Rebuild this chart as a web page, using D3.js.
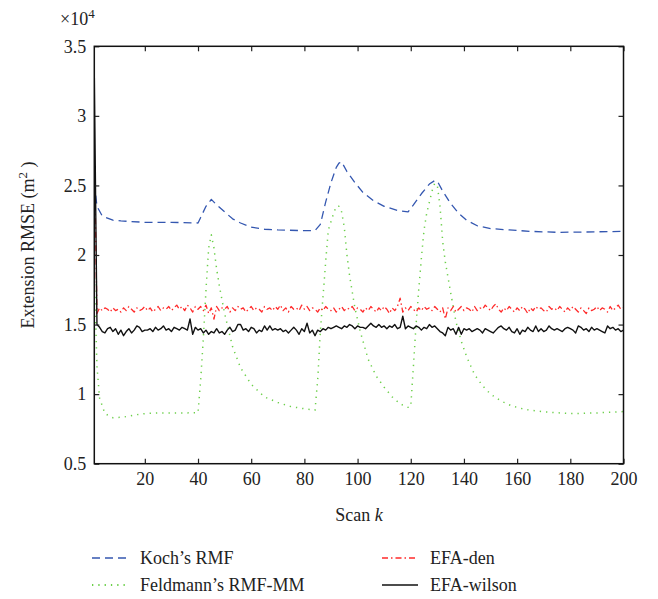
<!DOCTYPE html>
<html>
<head>
<meta charset="utf-8">
<script src="https://cdnjs.cloudflare.com/ajax/libs/d3/7.8.5/d3.min.js"></script>
<style>
  body { margin: 0; background: #fff; }
  text { font-family: "Liberation Serif", "Times New Roman", serif; fill: #222; }
</style>
</head>
<body>
<div id="chart"></div>
<script>
// values are in units of 10^4 m^2
var kochK = [1, 2, 4, 8, 11, 20, 30, 40, 41, 43, 45, 47, 50, 53, 56, 60, 65, 70, 80, 84,
  86, 88, 90, 92, 93, 94, 96, 99, 102, 106, 110, 115, 119, 121, 124, 127, 129, 130,
  132, 135, 138, 141, 145, 150, 157, 165, 175, 185, 200];
var kochVal = [2.52, 2.35, 2.28, 2.25, 2.245, 2.235, 2.235, 2.23, 2.27, 2.35, 2.40, 2.36, 2.31, 2.26, 2.23, 2.20, 2.185, 2.18, 2.175, 2.175,
  2.22, 2.38, 2.52, 2.63, 2.66, 2.67, 2.60, 2.52, 2.45, 2.39, 2.35, 2.32, 2.31, 2.36, 2.44, 2.51, 2.535, 2.53,
  2.46, 2.37, 2.30, 2.25, 2.21, 2.19, 2.18, 2.17, 2.163, 2.165, 2.17];

var feldK = [1, 2, 3, 5, 8, 12, 16, 20, 25, 30, 35, 40, 41, 42, 43, 44, 45, 46, 47, 48, 50, 53, 56, 60, 65, 70, 75, 80, 84,
  85, 86, 87, 88, 89, 91, 92, 93, 94, 95, 96, 97, 99, 101, 104, 107, 110, 113, 116, 119, 120,
  121, 122, 123, 124, 125, 126, 128, 129, 130, 131, 132, 133, 135, 137, 139, 141, 144, 147, 150, 154, 158, 163, 170, 180, 190, 200];
var feldVal = [1.88, 1.20, 0.97, 0.86, 0.83, 0.835, 0.85, 0.86, 0.865, 0.865, 0.865, 0.866, 1.10, 1.40, 1.75, 2.05, 2.145, 2.05, 1.90, 1.78, 1.58, 1.34, 1.19, 1.07, 0.98, 0.94, 0.91, 0.895, 0.885,
  1.10, 1.45, 1.70, 1.95, 2.18, 2.30, 2.35, 2.35, 2.31, 2.20, 2.00, 1.85, 1.62, 1.45, 1.25, 1.13, 1.05, 0.98, 0.93, 0.905, 0.91,
  1.20, 1.50, 1.75, 1.98, 2.18, 2.30, 2.46, 2.515, 2.50, 2.35, 2.10, 1.95, 1.73, 1.52, 1.38, 1.27, 1.14, 1.06, 1.00, 0.95, 0.915, 0.89, 0.873, 0.86, 0.865, 0.875];

// EFA-den, k = 1..200
var denVal = [2.75, 1.58, 1.62, 1.60, 1.62, 1.61, 1.59, 1.62, 1.60, 1.61,
  1.59, 1.62, 1.60, 1.63, 1.61, 1.59, 1.62, 1.60, 1.61, 1.63,
  1.60, 1.62, 1.59, 1.61, 1.63, 1.60, 1.62, 1.61, 1.63, 1.60,
  1.62, 1.64, 1.61, 1.63, 1.60, 1.64, 1.62, 1.59, 1.63, 1.61,
  1.63, 1.60, 1.64, 1.58, 1.62, 1.54, 1.63, 1.60, 1.62, 1.61,
  1.63, 1.59, 1.62, 1.60, 1.63, 1.61, 1.62, 1.59, 1.61, 1.63,
  1.60, 1.62, 1.61, 1.59, 1.63, 1.61, 1.62, 1.60, 1.63, 1.61,
  1.64, 1.60, 1.62, 1.59, 1.63, 1.61, 1.62, 1.60, 1.64, 1.61,
  1.63, 1.60, 1.62, 1.61, 1.59, 1.62, 1.60, 1.63, 1.61, 1.60,
  1.62, 1.59, 1.61, 1.63, 1.60, 1.62, 1.61, 1.63, 1.60, 1.62,
  1.61, 1.59, 1.62, 1.60, 1.63, 1.61, 1.59, 1.62, 1.60, 1.63,
  1.61, 1.58, 1.62, 1.60, 1.63, 1.69, 1.59, 1.62, 1.60, 1.63,
  1.61, 1.59, 1.62, 1.60, 1.63, 1.61, 1.62, 1.60, 1.63, 1.61,
  1.59, 1.62, 1.54, 1.62, 1.60, 1.63, 1.59, 1.61, 1.63, 1.60,
  1.62, 1.61, 1.59, 1.63, 1.60, 1.62, 1.61, 1.64, 1.62, 1.60,
  1.63, 1.65, 1.61, 1.59, 1.62, 1.60, 1.63, 1.61, 1.59, 1.62,
  1.60, 1.63, 1.61, 1.58, 1.62, 1.60, 1.63, 1.61, 1.62, 1.60,
  1.59, 1.63, 1.61, 1.62, 1.60, 1.63, 1.61, 1.59, 1.62, 1.60,
  1.63, 1.61, 1.59, 1.62, 1.60, 1.58, 1.62, 1.60, 1.61, 1.63,
  1.60, 1.62, 1.61, 1.59, 1.63, 1.60, 1.62, 1.64, 1.61, 1.62];

// EFA-wilson, k = 1..200
var wilsonVal = [3.30, 1.50, 1.48, 1.45, 1.44, 1.47, 1.48, 1.45, 1.47, 1.43,
  1.46, 1.42, 1.45, 1.47, 1.44, 1.46, 1.49, 1.48, 1.45, 1.46,
  1.46, 1.47, 1.45, 1.48, 1.46, 1.47, 1.49, 1.46, 1.47, 1.45,
  1.48, 1.47, 1.46, 1.48, 1.47, 1.46, 1.54, 1.43, 1.48, 1.46,
  1.47, 1.44, 1.46, 1.43, 1.45, 1.44, 1.47, 1.44, 1.45, 1.43,
  1.46, 1.48, 1.45, 1.46, 1.50, 1.50, 1.46, 1.47, 1.45, 1.48,
  1.47, 1.44, 1.46, 1.45, 1.49, 1.46, 1.49, 1.46, 1.47, 1.46,
  1.47, 1.45, 1.46, 1.44, 1.46, 1.48, 1.46, 1.43, 1.47, 1.45,
  1.51, 1.44, 1.46, 1.42, 1.46, 1.45, 1.47, 1.46, 1.48, 1.47,
  1.48, 1.49, 1.48, 1.47, 1.49, 1.48, 1.50, 1.49, 1.47, 1.49,
  1.48, 1.48, 1.47, 1.49, 1.51, 1.49, 1.48, 1.50, 1.48, 1.49,
  1.47, 1.49, 1.48, 1.50, 1.47, 1.48, 1.56, 1.47, 1.49, 1.48,
  1.47, 1.49, 1.48, 1.46, 1.48, 1.47, 1.50, 1.48, 1.49, 1.47,
  1.45, 1.44, 1.42, 1.48, 1.46, 1.47, 1.43, 1.48, 1.43, 1.47,
  1.46, 1.47, 1.45, 1.46, 1.47, 1.46, 1.44, 1.47, 1.46, 1.45,
  1.44, 1.46, 1.48, 1.49, 1.47, 1.46, 1.48, 1.45, 1.44, 1.47,
  1.43, 1.46, 1.45, 1.48, 1.46, 1.45, 1.49, 1.45, 1.47, 1.45,
  1.46, 1.49, 1.47, 1.46, 1.47, 1.46, 1.45, 1.47, 1.48, 1.47,
  1.46, 1.44, 1.49, 1.48, 1.46, 1.47, 1.45, 1.48, 1.46, 1.47,
  1.46, 1.45, 1.44, 1.49, 1.47, 1.48, 1.46, 1.47, 1.45, 1.46];

var xTicks = [20, 40, 60, 80, 100, 120, 140, 160, 180, 200];
var yTicks = [0.5, 1, 1.5, 2, 2.5, 3, 3.5];
var legendNames = ["Koch\u2019s RMF", "Feldmann\u2019s RMF-MM", "EFA-den", "EFA-wilson"];

var width = 658;
var height = 599;
var plotL = 94.3, plotR = 623.5, plotT = 46.3, plotB = 463.7;

var svg = d3.select('#chart')
  .append("svg")
  .attr("width", width)
  .attr("height", height);

var x = d3.scaleLinear().domain([1, 200]).range([plotL, plotR]);
var y = d3.scaleLinear().domain([0.5, 3.5]).range([plotB, plotT]);

function pairs(ks, vs) {
  return vs.map(function (v, i) { return [ks[i], v]; });
}
function indexed(vs) {
  return vs.map(function (v, i) { return [i + 1, v]; });
}

var line = d3.line()
  .x(function (d) { return x(d[0]); })
  .y(function (d) { return y(d[1]); });

var series = [
  { name: legendNames[0], data: pairs(kochK, kochVal), color: "#3457b0", dash: "8,5", w: 1.3 },
  { name: legendNames[1], data: pairs(feldK, feldVal), color: "#6ccf4a", dash: "1.3,5", w: 1.5 },
  { name: legendNames[2], data: indexed(denVal), color: "#ff2a2a", dash: "6,3,1.5,3", w: 1.3 },
  { name: legendNames[3], data: indexed(wilsonVal), color: "#111", dash: null, w: 1.4 }
];

svg.append("defs").append("clipPath").attr("id", "clip")
  .append("rect")
  .attr("x", plotL).attr("y", plotT)
  .attr("width", plotR - plotL).attr("height", plotB - plotT);

var plot = svg.append("g").attr("clip-path", "url(#clip)");

plot.selectAll(".series")
  .data(series)
  .enter()
  .append("path")
  .attr("class", "series")
  .attr("d", function (d) { return line(d.data); })
  .attr("fill", "none")
  .attr("stroke", function (d) { return d.color; })
  .attr("stroke-width", function (d) { return d.w; })
  .attr("stroke-dasharray", function (d) { return d.dash; })
  .attr("stroke-linejoin", "round");

// axes, ticks pointing inward
var fmt = function (d) { return String(d); };

svg.append("g")
  .attr("transform", "translate(0," + plotB + ")")
  .call(d3.axisBottom(x).tickValues(xTicks).tickSizeInner(-5).tickSizeOuter(0).tickPadding(9))
  .call(function (g) { g.select(".domain").remove(); })
  .selectAll("text").attr("font-size", 18);

svg.append("g")
  .attr("transform", "translate(0," + plotT + ")")
  .call(d3.axisTop(x).tickValues(xTicks).tickSizeInner(-5).tickSizeOuter(0).tickFormat(""))
  .call(function (g) { g.select(".domain").remove(); });

svg.append("g")
  .attr("transform", "translate(" + plotL + ",0)")
  .call(d3.axisLeft(y).tickValues(yTicks).tickSizeInner(-5).tickSizeOuter(0).tickPadding(8).tickFormat(fmt))
  .call(function (g) { g.select(".domain").remove(); })
  .selectAll("text").attr("font-size", 18);

svg.append("g")
  .attr("transform", "translate(" + plotR + ",0)")
  .call(d3.axisRight(y).tickValues(yTicks).tickSizeInner(-5).tickSizeOuter(0).tickFormat(""))
  .call(function (g) { g.select(".domain").remove(); });

svg.selectAll(".tick line").attr("stroke", "#222").attr("stroke-width", 1.2);

svg.append("rect")
  .attr("x", plotL).attr("y", plotT)
  .attr("width", plotR - plotL).attr("height", plotB - plotT)
  .attr("fill", "none")
  .attr("stroke", "#111")
  .attr("stroke-width", 1.5);

// exponent label
var expo = svg.append("text")
  .attr("x", 60).attr("y", 25)
  .attr("font-size", 18);
expo.append("tspan").text("\u00d710");
expo.append("tspan").attr("dy", -7).attr("font-size", 13).text("4");

// axis titles
var xt = svg.append("text")
  .attr("x", (plotL + plotR) / 2)
  .attr("y", 521)
  .attr("text-anchor", "middle")
  .attr("font-size", 18);
xt.append("tspan").text("Scan ");
xt.append("tspan").attr("font-style", "italic").text("k");

var yt = svg.append("text")
  .attr("transform", "translate(34,245) rotate(-90)")
  .attr("text-anchor", "middle")
  .attr("font-size", 18);
yt.append("tspan").text("Extension RMSE (m");
yt.append("tspan").attr("dy", -7).attr("font-size", 13).text("2");
yt.append("tspan").attr("dy", 7).text(" )");

// legend
var legendPos = [[92, 558], [92, 585], [382, 558], [382, 585]];

var legend = svg.selectAll(".legend")
  .data(series)
  .enter()
  .append("g")
  .attr("class", "legend")
  .attr("transform", function (d, i) {
    return "translate(" + legendPos[i][0] + "," + legendPos[i][1] + ")";
  });

legend.append("line")
  .attr("x1", 0).attr("x2", 36)
  .attr("y1", 0).attr("y2", 0)
  .attr("stroke", function (d) { return d.color; })
  .attr("stroke-width", function (d) { return d.w + 0.3; })
  .attr("stroke-dasharray", function (d) { return d.dash; });

legend.append("text")
  .attr("x", 48)
  .attr("y", 6)
  .attr("font-size", 18)
  .text(function (d) { return d.name; });
</script>
</body>
</html>
